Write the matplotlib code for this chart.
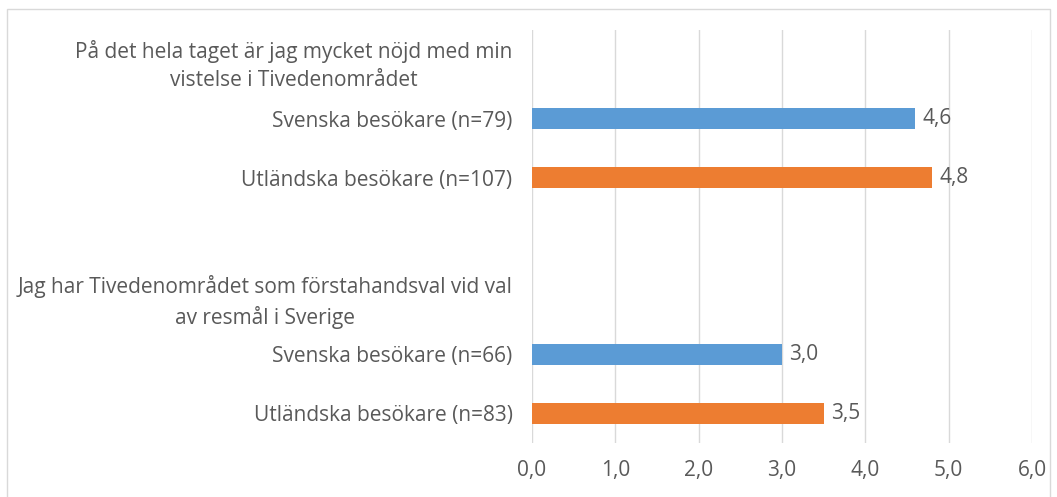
import matplotlib
matplotlib.use("Agg")
import matplotlib.pyplot as plt
import numpy as np
from matplotlib.patches import Rectangle

categories = [
    "På det hela taget är jag mycket nöjd med min\nvistelse i Tivedenområdet",
    "Svenska besökare (n=79)",
    "Utländska besökare (n=107)",
    "",
    "Jag har Tivedenområdet som förstahandsval vid val\nav resmål i Sverige",
    "Svenska besökare (n=66)",
    "Utländska besökare (n=83)",
]
values = [np.nan, 4.6, 4.8, np.nan, np.nan, 3.0, 3.5]
groups = ["", "sv", "ut", "", "", "sv", "ut"]
xticks = [0, 1, 2, 3, 4, 5, 6]
xticklabels = ["0,0", "1,0", "2,0", "3,0", "4,0", "5,0", "6,0"]

colors = {"sv": "#5B9BD5", "ut": "#ED7D31", "": "none"}
text_color = "#595959"
plt.rcParams['font.family'] = ['Open Sans', 'DejaVu Sans']
fs = 15

fig = plt.figure(figsize=(10.57, 4.97), dpi=100)
fig.patches.append(Rectangle((0.0066, -0.01), 0.987, 0.992, transform=fig.transFigure,
                             fill=False, edgecolor="#d9d9d9", linewidth=1))
ax = fig.add_axes([0.5033, 0.1087, 0.4730, 0.8309])

y = np.arange(len(categories))
for yi, v, g in zip(y, values, groups):
    if np.isnan(v):
        continue
    ax.barh(yi, v, height=0.34, color=colors[g], zorder=3)
    ax.text(v + 0.09, yi, f"{v:.1f}".replace(".", ","), va="center", ha="left",
            fontsize=fs, color=text_color)

ax.set_ylim(len(categories) - 0.5, -0.5)
ax.set_xlim(0, 6)
ax.set_yticks(y)
ax.set_yticklabels(categories, fontsize=fs, color=text_color)
for lbl in ax.get_yticklabels():
    lbl.set_multialignment("center")
    lbl.set_linespacing(1.45)
ax.set_xticks(xticks)
ax.set_xticklabels(xticklabels, fontsize=fs, color=text_color)
ax.tick_params(axis="both", length=0)
ax.tick_params(axis="y", pad=14)
ax.tick_params(axis="x", pad=12)
ax.grid(axis="x", color="#d9d9d9", linewidth=1, zorder=0)
for s in ax.spines.values():
    s.set_visible(False)

fig.savefig("out.png", dpi=100)
